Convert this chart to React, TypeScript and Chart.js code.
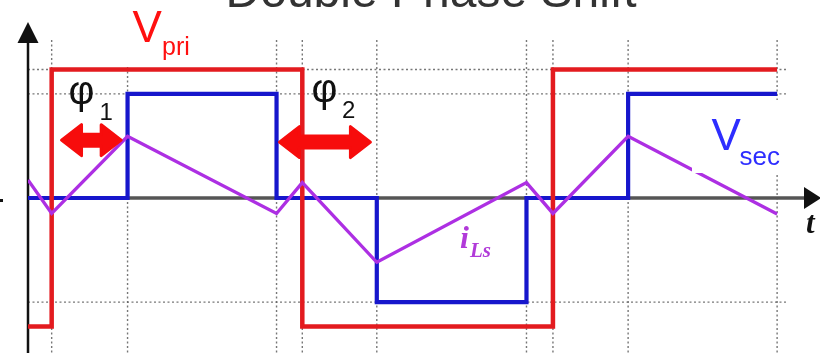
import { useEffect, useRef } from 'react';
import { Chart, registerables } from 'chart.js';

Chart.register(...registerables);

// Phase angle axis (degrees of the switching period)
const T_START = -17;
const X_MAX = 551.8;
const Y_MIN = -1.206;
const Y_MAX = 1.3696;

// Primary bridge voltage, normalised: level holds from each angle onwards
const VPRI_T = [-17, 0, 180, 360, 521];
const VPRI_V = [-1, 1, -1, 1, 1];

// Secondary bridge voltage (three-level)
const VSEC_T = [-17, 54.5, 161.5, 233.5, 341, 414, 521];
const VSEC_V = [0, 0.81, 0, -0.81, 0, 0.81, 0.81];

// Leakage inductor current at each corner of the waveform
const ILS_T = [-17, 0, 54.5, 161.5, 180, 233.5, 341, 360, 414, 521];
const ILS_V = [0.14, -0.12, 0.48, -0.12, 0.12, -0.5, 0.12, -0.12, 0.48, -0.125];

// Dotted reference lines
const GRID_T = [0, 54.5, 161.5, 180, 233.5, 341, 360, 414, 521];
const GRID_V = [1, 0.81, -0.81];
const GRID_TOP = 1.23;
const GRID_RIGHT = 529;

// Phase-shift intervals marked with double arrows
const PHASE_FROM = [6, 162.5];
const PHASE_TO = [51, 230];
const PHASE_LEVEL = [0.45, 0.435];

const SANS = '"Liberation Sans", Arial, sans-serif';
const SERIF = '"Liberation Serif", "Times New Roman", serif';

const pts = (ts: number[], vs: number[]) => ts.map((t, i) => ({ x: t, y: vs[i] }));

function doubleArrow(ctx: CanvasRenderingContext2D, x1: number, x2: number, y: number) {
  const L = 20;
  const H = 15.5;
  const S = 6;
  ctx.beginPath();
  ctx.moveTo(x1, y);
  ctx.lineTo(x1 + L, y - H);
  ctx.lineTo(x1 + L, y - S);
  ctx.lineTo(x2 - L, y - S);
  ctx.lineTo(x2 - L, y - H);
  ctx.lineTo(x2, y);
  ctx.lineTo(x2 - L, y + H);
  ctx.lineTo(x2 - L, y + S);
  ctx.lineTo(x1 + L, y + S);
  ctx.lineTo(x1 + L, y + H);
  ctx.closePath();
  ctx.fill();
  ctx.stroke();
}

const overlay = {
  id: 'waveOverlay',
  beforeDatasetsDraw(chart: any) {
    const { ctx } = chart;
    const xs = chart.scales.x;
    const ys = chart.scales.y;
    const W = chart.width;
    const H = chart.height;
    const axisX = xs.getPixelForValue(T_START);
    const zeroY = ys.getPixelForValue(0);
    ctx.save();

    // dotted grid
    ctx.strokeStyle = 'rgba(95,95,95,0.85)';
    ctx.lineWidth = 1.4;
    ctx.setLineDash([2, 2.5]);
    const top = ys.getPixelForValue(GRID_TOP);
    for (const t of GRID_T) {
      const x = xs.getPixelForValue(t);
      ctx.beginPath();
      ctx.moveTo(x, top);
      ctx.lineTo(x, H);
      ctx.stroke();
    }
    const right = xs.getPixelForValue(GRID_RIGHT);
    for (const v of GRID_V) {
      const y = ys.getPixelForValue(v);
      ctx.beginPath();
      ctx.moveTo(axisX, y);
      ctx.lineTo(right, y);
      ctx.stroke();
    }
    ctx.setLineDash([]);

    // time axis
    ctx.strokeStyle = '#555';
    ctx.lineWidth = 3.5;
    ctx.beginPath();
    ctx.moveTo(axisX, zeroY);
    ctx.lineTo(W - 12, zeroY);
    ctx.stroke();
    ctx.fillStyle = '#111';
    ctx.beginPath();
    ctx.moveTo(W - 16, zeroY - 11);
    ctx.lineTo(W + 1, zeroY);
    ctx.lineTo(W - 16, zeroY + 11);
    ctx.closePath();
    ctx.fill();

    // vertical axis
    const tipY = chart.chartArea.top;
    ctx.strokeStyle = '#111';
    ctx.lineWidth = 2.5;
    ctx.beginPath();
    ctx.moveTo(axisX, H);
    ctx.lineTo(axisX, tipY + 15);
    ctx.stroke();
    ctx.beginPath();
    ctx.moveTo(axisX, tipY);
    ctx.lineTo(axisX + 10.5, tipY + 21);
    ctx.lineTo(axisX - 10.5, tipY + 21);
    ctx.closePath();
    ctx.fill();
    ctx.fillRect(0, zeroY + 1, 3, 3);

    ctx.restore();
  },
  afterDatasetsDraw(chart: any) {
    const { ctx } = chart;
    const xs = chart.scales.x;
    const ys = chart.scales.y;
    ctx.save();
    ctx.textBaseline = 'alphabetic';
    ctx.textAlign = 'left';

    // title
    ctx.fillStyle = '#333';
    ctx.font = `48px ${SANS}`;
    ctx.textAlign = 'center';
    ctx.fillText('Double Phase Shift', 431, 7);
    ctx.textAlign = 'left';

    // primary voltage label
    ctx.fillStyle = '#fff';
    ctx.fillRect(115, 0, 98, 65);
    ctx.fillStyle = '#ff1010';
    ctx.font = `44px ${SANS}`;
    ctx.fillText('V', 132.5, 41.5);
    ctx.font = `25px ${SANS}`;
    ctx.fillText('pri', 162, 55);

    // secondary voltage label
    ctx.fillStyle = '#fff';
    ctx.fillRect(692, 100, 100, 73);
    ctx.fillStyle = '#2d2dff';
    ctx.font = `44px ${SANS}`;
    ctx.fillText('V', 711.5, 150);
    ctx.font = `26px ${SANS}`;
    ctx.fillText('sec', 739.5, 165);

    // phase-shift arrows
    ctx.fillStyle = '#f70c0c';
    ctx.strokeStyle = '#f70c0c';
    ctx.lineWidth = 3;
    ctx.lineJoin = 'round';
    for (let i = 0; i < PHASE_FROM.length; i++) {
      doubleArrow(
        ctx,
        xs.getPixelForValue(PHASE_FROM[i]) + 1.5,
        xs.getPixelForValue(PHASE_TO[i]) - 1.5,
        ys.getPixelForValue(PHASE_LEVEL[i])
      );
    }

    // phase symbols
    ctx.fillStyle = '#111';
    ctx.font = `40px ${SANS}`;
    ctx.fillText('φ', 68.5, 104);
    ctx.fillText('φ', 311.5, 102);
    ctx.font = `24px ${SANS}`;
    ctx.fillText('1', 99.5, 120);
    ctx.fillText('2', 342, 118);

    // current label
    ctx.fillStyle = '#b13ad9';
    ctx.font = `italic bold 32px ${SERIF}`;
    ctx.fillText('i', 460, 248);
    ctx.font = `italic bold 21px ${SERIF}`;
    ctx.fillText('Ls', 470, 257);

    // time label
    ctx.fillStyle = '#111';
    ctx.font = `italic bold 31px ${SERIF}`;
    ctx.fillText('t', 806, 233);

    ctx.restore();
  },
};

export default function App() {
  const ref = useRef<HTMLCanvasElement | null>(null);

  useEffect(() => {
    if (!ref.current) return;
    const chart = new Chart(ref.current, {
      type: 'line',
      data: {
        datasets: [
          {
            label: 'iLs',
            data: pts(ILS_T, ILS_V),
            borderColor: '#ad2fe3',
            borderWidth: 3.3,
            order: 1,
          },
          {
            label: 'Vpri',
            data: pts(VPRI_T, VPRI_V),
            borderColor: '#e31b1f',
            borderWidth: 4.5,
            stepped: true,
            order: 2,
          },
          {
            label: 'Vsec',
            data: pts(VSEC_T, VSEC_V),
            borderColor: '#1616cc',
            borderWidth: 4.2,
            stepped: true,
            order: 3,
          },
        ],
      },
      options: {
        responsive: false,
        animation: false,
        events: [],
        layout: { padding: { left: 28, right: 0, top: 22, bottom: 0 } },
        elements: {
          point: { radius: 0 },
          line: { tension: 0, borderJoinStyle: 'miter', borderCapStyle: 'butt', fill: false },
        },
        scales: {
          x: { type: 'linear', display: false, min: T_START, max: X_MAX },
          y: { type: 'linear', display: false, min: Y_MIN, max: Y_MAX },
        },
        plugins: {
          legend: { display: false },
          tooltip: { enabled: false },
          title: { display: false },
        },
      },
      plugins: [overlay],
    });
    return () => chart.destroy();
  }, []);

  return (
    <div style={{ position: 'absolute', left: 0, top: 0, width: 820, height: 353, background: '#fff' }}>
      <canvas ref={ref} width={820} height={353} style={{ display: 'block' }} />
    </div>
  );
}
